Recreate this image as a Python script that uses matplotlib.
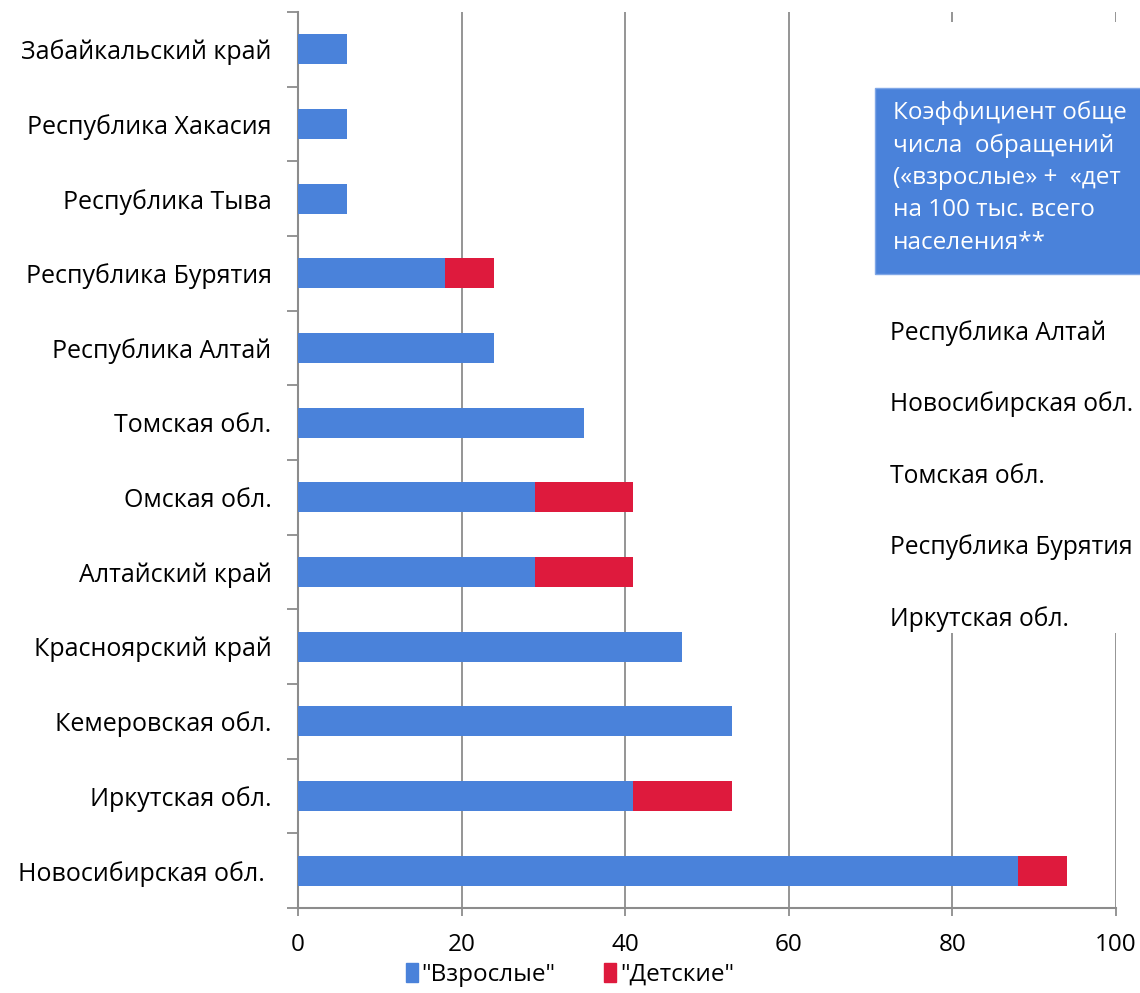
import matplotlib.pyplot as plt
from matplotlib.patches import Rectangle, Patch
from matplotlib.ticker import MultipleLocator, FixedLocator

regions = ['Новосибирская обл. ', 'Иркутская обл.', 'Кемеровская обл.', 'Красноярский край',
           'Алтайский край', 'Омская обл.', 'Томская обл.', 'Республика Алтай',
           'Республика Бурятия', 'Республика Тыва', 'Республика Хакасия', 'Забайкальский край']
adults = [88, 41, 53, 47, 29, 29, 35, 24, 18, 6, 6, 6]
children = [6, 12, 0, 0, 12, 12, 0, 0, 6, 0, 0, 0]

box_lines = ['Коэффициент обще', 'числа  обращений', '(«взрослые» +  «дет',
             'на 100 тыс. всего', 'населения**']
top_list = ['Республика Алтай', 'Новосибирская обл.', 'Томская обл.',
            'Республика Бурятия', 'Иркутская обл.']

blue = '#4A82DA'
red = '#DE1A3D'
grey = '#8C8C8C'

plt.rcParams['font.family'] = ['Open Sans', 'DejaVu Sans']

fig = plt.figure(figsize=(11.4, 9.93), dpi=100)
ax = fig.add_axes([0.2614, 0.0856, 0.979 - 0.2614, 0.988 - 0.0856])

y = range(len(regions))
ax.barh(y, adults, height=0.4, color=blue, zorder=3)
ax.barh(y, children, left=adults, height=0.4, color=red, zorder=3)

ax.set_xlim(0, 100)
ax.set_ylim(-0.5, len(regions) - 0.5)
ax.xaxis.set_major_locator(MultipleLocator(20))
ax.grid(axis='x', color=grey, linewidth=1.3, zorder=0)

ax.set_yticks(list(y))
ax.set_yticklabels(regions, fontsize=18)
ax.yaxis.set_minor_locator(FixedLocator([k - 0.5 for k in range(len(regions) + 1)]))
ax.tick_params(axis='y', which='major', length=0, pad=19)
ax.tick_params(axis='y', which='minor', length=8, width=1.3, color=grey)
ax.tick_params(axis='x', length=6, width=1.3, color=grey, labelsize=17.5, pad=12)

for side in ['top', 'right']:
    ax.spines[side].set_visible(False)
for side in ['left', 'bottom']:
    ax.spines[side].set_color(grey)
    ax.spines[side].set_linewidth(1.5)

# белая подложка под врезкой справа
W, H = 1140, 993
fig.patches.append(Rectangle((878 / W, 1 - 633 / H), 1, (633 - 22) / H,
                             transform=fig.transFigure, facecolor='white',
                             edgecolor='none', zorder=5))
fig.patches.append(Rectangle((875 / W, 1 - 274 / H), 1, (274 - 88) / H,
                             transform=fig.transFigure, facecolor=blue,
                             edgecolor='#7FA6E6', linewidth=1, zorder=6))
for i, line in enumerate(box_lines):
    fig.text(893 / W, 1 - (113 + 32.5 * i) / H, line, color='white', fontsize=17.5,
             va='center', ha='left', zorder=7)
for i, line in enumerate(top_list):
    fig.text(890 / W, 1 - (333 + 71.5 * i) / H, line, color='black', fontsize=17.7,
             va='center', ha='left', zorder=7)

handles = [Patch(color=blue, label='"Взрослые"'), Patch(color=red, label='"Детские"')]
fig.legend(handles=handles, loc='center', bbox_to_anchor=(570 / W, 1 - 975 / H), ncol=2,
           frameon=False, fontsize=17.5, handlelength=0.5, handleheight=0.8,
           handletextpad=0.15, columnspacing=2.0)

fig.savefig('out.png', dpi=100)
